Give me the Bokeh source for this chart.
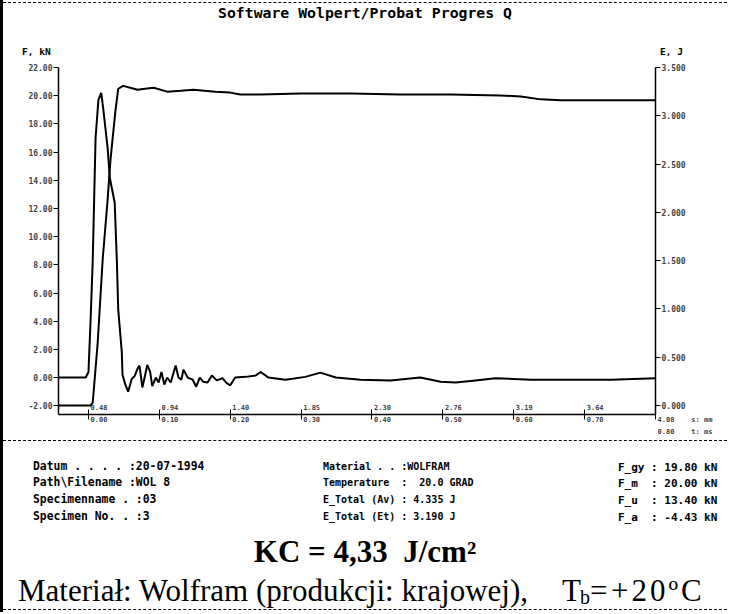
from bokeh.plotting import figure
from bokeh.layouts import column
from bokeh.models import (Range1d, LinearAxis, FixedTicker, PrintfTickFormatter,
                          CustomJSTickFormatter, Div)
from bokeh.embed import file_html
from bokeh.resources import INLINE

# ---------------- data ----------------
# time axis, ms ; force F, kN
force_t = [-0.042, -0.004, 0.000, 0.003, 0.006, 0.010, 0.014, 0.018, 0.021, 0.027,
           0.030, 0.037, 0.040, 0.042, 0.047, 0.048, 0.052, 0.056, 0.061, 0.065,
           0.069, 0.072, 0.076, 0.080, 0.083, 0.087, 0.090, 0.095, 0.099, 0.103,
           0.107, 0.111, 0.116, 0.123, 0.127, 0.131, 0.134, 0.140, 0.147, 0.152,
           0.157, 0.162, 0.168, 0.174, 0.181, 0.189, 0.195, 0.200, 0.207, 0.222,
           0.236, 0.243, 0.254, 0.278, 0.306, 0.327, 0.349, 0.384, 0.426, 0.468,
           0.497, 0.518, 0.546, 0.574, 0.624, 0.680, 0.737, 0.800]
force_kn = [0.0, 0.0, 0.4, 4.1, 8.3, 17.0, 19.7, 20.2, 19.0, 16.3,
            14.2, 12.4, 8.3, 4.8, 1.8, 0.2, -0.5, -1.0, -0.1, 0.1,
            0.6, 0.85, -0.7, 0.2, 0.9, 0.4, -0.6, 0.0, -0.35, 0.4,
            -0.5, 0.0, -0.35, 0.85, 0.0, -0.15, 0.55, 0.0, -0.15, -0.65,
            0.0, -0.3, -0.35, 0.15, -0.2, -0.05, -0.4, -0.55, 0.0, 0.05,
            0.15, 0.4, 0.0, -0.15, 0.05, 0.35, 0.0, -0.15, -0.2, 0.0,
            -0.3, -0.35, -0.2, -0.05, -0.15, -0.15, -0.15, -0.05]

# energy E, J
energy_t = [-0.042, 0.003, 0.006, 0.013, 0.020, 0.027, 0.031, 0.038, 0.042, 0.049,
            0.059, 0.069, 0.080, 0.092, 0.111, 0.130, 0.148, 0.179, 0.200, 0.214,
            0.243, 0.299, 0.370, 0.440, 0.511, 0.581, 0.610, 0.638, 0.666, 0.722,
            0.800]
energy_j = [0.0, 0.0, 0.03, 0.65, 1.51, 2.13, 2.54, 3.05, 3.28, 3.31,
            3.29, 3.27, 3.28, 3.29, 3.25, 3.26, 3.27, 3.25, 3.24, 3.22,
            3.22, 3.23, 3.23, 3.22, 3.22, 3.21, 3.20, 3.17, 3.16, 3.16,
            3.16]

force_ticks = [-2, 0, 2, 4, 6, 8, 10, 12, 14, 16, 18, 20, 22]
energy_ticks = [0.0, 0.5, 1.0, 1.5, 2.0, 2.5, 3.0, 3.5]
time_ticks = [0.0, 0.1, 0.2, 0.3, 0.4, 0.5, 0.6, 0.7, 0.8]
time_labels = ["0.00", "0.10", "0.20", "0.30", "0.40", "0.50", "0.60", "0.70", "0.80"]
disp_labels = ["0.48", "0.94", "1.40", "1.85", "2.30", "2.76", "3.19", "3.64", "4.08"]
x_units = ["s: mm", "t: ms"]

title_text = "Software Wolpert/Probat Progres Q"
y_name_left = "F, kN"
y_name_right = "E, J"
info_left = ["Datum . . . . :20-07-1994", "Path\\Filename :WOL 8",
             "Specimenname . :03", "Specimen No. . :3"]
info_mid = ["Material . . :WOLFRAM", "Temperature  :  20.0 GRAD",
            "E_Total (Av) : 4.335 J", "E_Total (Et) : 3.190 J"]
info_right = ["F_gy : 19.80 kN", "F_m  : 20.00 kN", "F_u  : 13.40 kN", "F_a  : -4.43 kN"]
kc_text = "KC = 4,33\u00a0\u00a0J/cm\u00b2"
material_text = "Materiał: Wolfram (produkcji: krajowej),"
temp_parts = ["T", "b", "=", "+20\u00baC"]

MONO = "'DejaVu Sans Mono'"
SERIF = "'Liberation Serif'"
W = 724
OX = 3   # x offset of the content (left frame line)


def span(text, x, y, size, font=MONO, weight="bold", center=False, extra=""):
    tx = "-50%" if center else "0"
    return (f'<div style="position:absolute;left:{x - OX}px;top:{y}px;'
            f'transform:translate({tx},-50%);white-space:pre;line-height:1;'
            f'font-family:{font};font-size:{size}px;font-weight:{weight};'
            f'color:black;{extra}">{text}</div>')


def esc(s):
    return s.replace("&", "&amp;").replace("<", "&lt;").replace(">", "&gt;")


# ---------------- header ----------------
H_HEAD = 60
head_html = (f'<div style="position:relative;width:{W}px;height:{H_HEAD}px;'
             f'overflow:hidden;background:white;">'
             f'<div style="position:absolute;left:0;top:2px;width:{W}px;'
             f'border-top:1.5px dashed black;"></div>'
             + span(esc(title_text), 365, 13, 14.8, center=True)
             + span(esc(y_name_left), 22, 52, 9.5)
             + span(esc(y_name_right), 660, 52, 9.5)
             + '</div>')
head = Div(text=head_html, width=W, height=H_HEAD, margin=0)

# ---------------- chart ----------------
p = figure(width=W, height=378, output_backend="svg", toolbar_location=None,
           x_range=Range1d(-0.0423, 0.80), y_range=Range1d(-2.62, 22.0),
           min_border_left=58 - OX, min_border_right=W - (655 - OX),
           min_border_top=7, min_border_bottom=23, margin=0)
p.extra_y_ranges = {"e": Range1d(-0.093, 3.5)}
p.grid.visible = False
p.outline_line_color = None
p.background_fill_color = "white"
p.border_fill_color = "white"

ya = p.yaxis[0]
ya.ticker = FixedTicker(ticks=force_ticks)
ya.formatter = PrintfTickFormatter(format="%.2f")
ya.major_label_text_font = "DejaVu Sans Mono"
ya.major_label_text_font_style = "bold"
ya.major_label_text_font_size = "8px"
ya.major_tick_in = 0
ya.major_tick_out = 5
ya.minor_tick_line_color = None
ya.major_label_standoff = 1
ya.axis_line_width = 1.5

ra = LinearAxis(y_range_name="e", ticker=FixedTicker(ticks=energy_ticks),
                formatter=PrintfTickFormatter(format="%.3f"))
ra.major_label_text_font = "DejaVu Sans Mono"
ra.major_label_text_font_style = "bold"
ra.major_label_text_font_size = "8px"
ra.major_tick_in = 0
ra.major_tick_out = 5
ra.minor_tick_line_color = None
ra.major_label_standoff = 1
ra.axis_line_width = 1.5
p.add_layout(ra, "right")

xa = p.xaxis[0]
xa.ticker = FixedTicker(ticks=time_ticks)
xa.formatter = CustomJSTickFormatter(
    args=dict(tv=time_ticks, top=disp_labels, bot=time_labels, un=x_units),
    code="""
    let i = -1;
    for (let k = 0; k < tv.length; k++) { if (Math.abs(tv[k] - tick) < 1e-6) { i = k; } }
    if (i < 0) { return ''; }
    const sp = '\\u00a0';
    let a = top[i], b = bot[i];
    if (i == tv.length - 1) {
        a = a + sp.repeat(4) + un[0];
        b = b + sp.repeat(4) + un[1];
        const m = Math.max(a.length, b.length) + 1;
        return sp.repeat(m) + '\\n' + sp.repeat(m) + a + '\\n' + sp.repeat(m) + b;
    }
    const n = Math.max(a.length, b.length) + 1;
    return sp.repeat(n) + a + '\\n' + sp.repeat(n) + b;
    """)
xa.major_label_text_font = "DejaVu Sans Mono"
xa.major_label_text_font_style = "bold"
xa.major_label_text_font_size = "7px"
xa.major_label_text_line_height = 1.5
xa.major_label_text_align = "left"
xa.major_tick_in = 5
xa.major_tick_out = 5
xa.minor_tick_line_color = None
xa.major_label_standoff = -16
xa.axis_line_width = 1.5

p.line(force_t, force_kn, line_color="black", line_width=2)
p.line(energy_t, energy_j, line_color="black", line_width=2, y_range_name="e")

# ---------------- info block ----------------
Y0 = 438
H_FOOT = 174
rows_y = [466, 482, 499, 516]
parts = []
for t, y in zip(info_left, rows_y):
    parts.append(span(esc(t), 33, y - Y0 + 1, 11.4))
for t, y in zip(info_mid, rows_y):
    parts.append(span(esc(t), 323, y - Y0 + 1, 10))
for t, y in zip(info_right, rows_y):
    parts.append(span(esc(t), 618, y - Y0 + 1, 11))
parts.append(span(esc(kc_text), 365, 551 - Y0, 31, font=SERIF, center=True))
parts.append(span(esc(material_text), 18, 590 - Y0, 31, font=SERIF, weight="normal"))
parts.append(span(esc(temp_parts[0]), 562, 590 - Y0, 31, font=SERIF, weight="normal"))
parts.append(span(esc(temp_parts[1]), 580, 597 - Y0, 20, font=SERIF, weight="normal"))
parts.append(span(esc(temp_parts[2]), 590, 590 - Y0, 31, font=SERIF, weight="normal"))
parts.append(span(esc(temp_parts[3]), 611, 590 - Y0, 31, font=SERIF, weight="normal",
                  extra="letter-spacing:3px;"))
foot_html = (f'<div style="position:relative;width:{W}px;height:{H_FOOT}px;'
             f'overflow:hidden;background:white;">'
             f'<div style="position:absolute;left:0;top:2px;width:{W}px;'
             f'border-top:1px dashed black;"></div>'
             f'<div style="position:absolute;left:0;top:{H_FOOT - 3}px;width:{W}px;'
             f'border-top:1.5px dashed black;"></div>'
             + "".join(parts) + '</div>')
foot = Div(text=foot_html, width=W, height=H_FOOT, margin=0)

layout = column(head, p, foot, spacing=0,
                styles={"border-left": "3px solid black", "background": "white"})

open("out.html", "w").write(file_html(layout, INLINE))
